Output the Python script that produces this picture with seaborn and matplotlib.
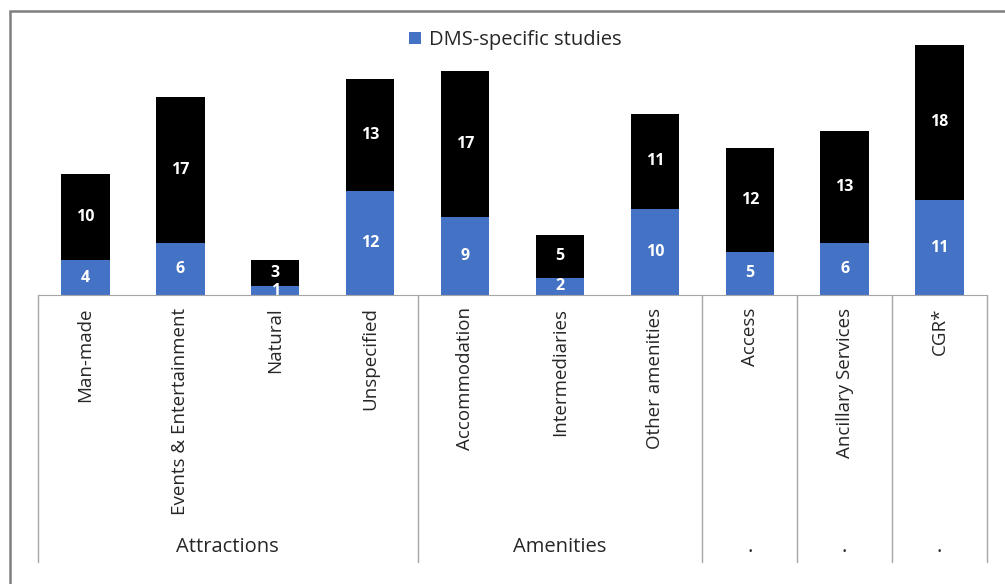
import pandas as pd
import seaborn as sns
import matplotlib.pyplot as plt
from matplotlib.patches import Rectangle
from matplotlib.lines import Line2D
import matplotlib.transforms as mtransforms

# data
categories = ['Man-made', 'Events & Entertainment', 'Natural', 'Unspecified',
              'Accommodation', 'Intermediaries', 'Other amenities', 'Access',
              'Ancillary Services', 'CGR*']
dms_specific = [4, 6, 1, 12, 9, 2, 10, 5, 6, 11]
other_studies = [10, 17, 3, 13, 17, 5, 11, 12, 13, 18]
group_names = ['Attractions', 'Amenities', '.', '.', '.']
group_sizes = [4, 3, 1, 1, 1]

df = pd.DataFrame({'category': categories, 'dms': dms_specific, 'other': other_studies})
df['total'] = df['dms'] + df['other']

sns.set_style('white')
plt.rcParams['font.family'] = ['Open Sans', 'DejaVu Sans']

fig = plt.figure(figsize=(10.05, 5.84), dpi=100)
W, H = 1005, 584
x0, x1, y_base, y_top = 38, 987, 295, 30
ax = fig.add_axes([x0 / W, 1 - y_base / H, (x1 - x0) / W, (y_base - y_top) / H])

blue = '#4472C4'
sns.barplot(data=df, x='category', y='total', color='black', width=0.51,
            saturation=1, linewidth=0, ax=ax)
sns.barplot(data=df, x='category', y='dms', color=blue, width=0.51,
            saturation=1, linewidth=0, ax=ax, label='DMS-specific studies')
ax.set_ylim(0, (y_base - y_top) / 8.63)
ax.set_xlim(-0.5, len(categories) - 0.5)

# value labels
for i, row in df.iterrows():
    ax.text(i, row['dms'] / 2, str(row['dms']), ha='center', va='center',
            color='white', fontsize=11.5, fontweight='bold')
    ax.text(i, row['dms'] + row['other'] / 2, str(row['other']), ha='center',
            va='center', color='white', fontsize=11.5, fontweight='bold')

for s in ['top', 'right', 'left']:
    ax.spines[s].set_visible(False)
ax.spines['bottom'].set_color('#A6A6A6')
ax.set_yticks([])
ax.set_xlabel('')
ax.set_ylabel('')
ax.set_xticks(range(len(categories)))
ax.set_xticklabels(categories, rotation=90, fontsize=13.5, va='top', ha='center')
ax.tick_params(axis='x', length=0, pad=9)

# group separators and labels
axh = y_base - y_top
trans = mtransforms.blended_transform_factory(ax.transData, ax.transAxes)
bottom_frac = -(562 - y_base) / axh
edges = [-0.5]
for n in group_sizes:
    edges.append(edges[-1] + n)
for e in edges:
    ax.add_line(Line2D([e, e], [0, bottom_frac], transform=trans, color='#A6A6A6',
                       lw=1, clip_on=False))
for name, a, b in zip(group_names, edges[:-1], edges[1:]):
    ax.text((a + b) / 2, -(547 - y_base) / axh, name, transform=trans,
            ha='center', va='center', fontsize=14.5)

leg = ax.legend(loc='center', bbox_to_anchor=(515 / W, 1 - 40 / H),
                bbox_transform=fig.transFigure, frameon=False, fontsize=14.5,
                handlelength=0.6, handleheight=0.6, handletextpad=0.4)

# outer chart border
fig.add_artist(Rectangle((9.5 / W, -0.1), 1.2, 1 - 11 / H + 0.1,
                         transform=fig.transFigure, fill=False,
                         edgecolor='#7F7F7F', lw=1.8, clip_on=False))

fig.savefig('out.png', dpi=100)
